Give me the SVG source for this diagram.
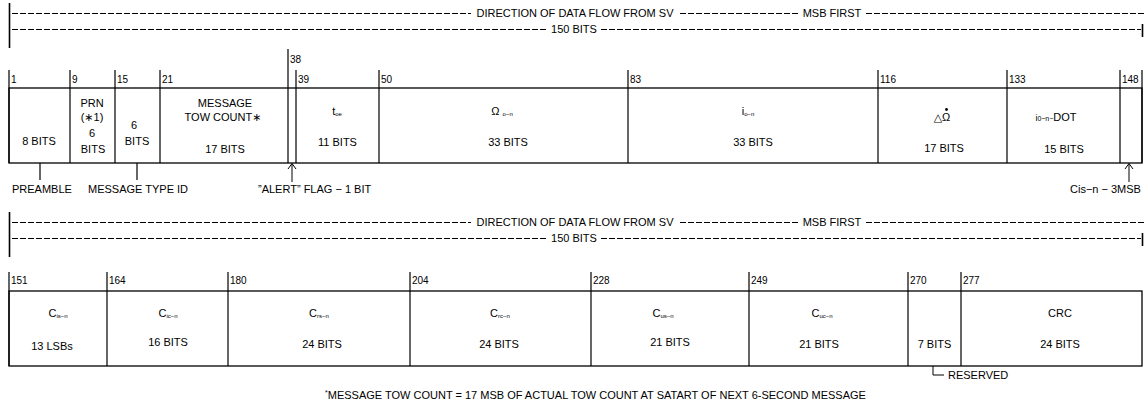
<svg xmlns="http://www.w3.org/2000/svg" width="1146" height="405" viewBox="0 0 1146 405">
<style>
text{font-family:"Liberation Sans",Arial,"DejaVu Sans",sans-serif;font-size:11px;fill:#000}
.m{text-anchor:middle}
.n{font-size:10px}
.s{font-size:6px}
.box{fill:none;stroke:#000;stroke-width:1.3}
.tk{stroke:#000;stroke-width:1.2;fill:none}
.bar{stroke:#000;stroke-width:1.6}
.dash{stroke:#000;stroke-width:1;stroke-dasharray:6 2}
.arr{stroke:#000;stroke-width:1;fill:none}
</style>
<defs>
<g id="hdr">
<line class="bar" x1="9.5" y1="3" x2="9.5" y2="48"/>
<line class="dash" x1="12" y1="13.5" x2="471" y2="13.5"/>
<line class="dash" x1="680" y1="13.5" x2="799" y2="13.5"/>
<line class="dash" x1="866" y1="13.5" x2="1145" y2="13.5"/>
<line class="dash" x1="12" y1="29.5" x2="547" y2="29.5"/>
<line class="dash" x1="601" y1="29.5" x2="1141" y2="29.5"/>
<line class="bar" x1="1142.5" y1="24" x2="1142.5" y2="37"/>
<text class="m" x="575" y="17">DIRECTION OF DATA FLOW FROM SV</text>
<text class="m" x="832" y="17">MSB FIRST</text>
<text class="m" x="574" y="33">150 BITS</text>
</g>
</defs>

<g id="header-top"><use href="#hdr"/></g>
<g id="header-bottom"><use href="#hdr" transform="translate(0,209)"/></g>

<g id="connectors">
<line class="tk" x1="40" y1="163" x2="40" y2="180"/>
<line class="tk" x1="137" y1="163" x2="137" y2="180"/>
<path class="arr" d="M292,182 V164 M288,169 L292,163.5 L296,169"/>
<path class="arr" d="M1129,182 V164 M1125,169 L1129,163.5 L1133,169"/>
<path class="arr" d="M933,366 V375 H944"/>
</g>

<g id="row1">
<rect class="box" x="9" y="88" width="1133" height="75"/>
<path class="tk" d="M9,70V163 M70,70V163 M115,70V163 M160,70V163 M288,49V163 M296,70V163 M379,70V163 M628,70V163 M878,70V163 M1007,70V163 M1120,70V163 M1142,70V163"/>
<text class="n" x="11" y="83">1</text>
<text class="n" x="72" y="83">9</text>
<text class="n" x="117" y="83">15</text>
<text class="n" x="162" y="83">21</text>
<text class="n" x="290" y="63">38</text>
<text class="n" x="298" y="83">39</text>
<text class="n" x="381" y="83">50</text>
<text class="n" x="630" y="83">83</text>
<text class="n" x="880" y="83">116</text>
<text class="n" x="1009" y="83">133</text>
<text class="n" x="1122" y="83">148</text>
</g>

<g id="preamble"><text class="m" x="39" y="145">8 BITS</text></g>
<g id="prn">
<text class="m" x="92" y="107">PRN</text>
<text class="m" x="92" y="121">(∗1)</text>
<text class="m" x="92" y="137">6</text>
<text class="m" x="93" y="153">BITS</text>
</g>
<g id="msgtype">
<text class="m" x="134" y="129">6</text>
<text class="m" x="137" y="145">BITS</text>
</g>
<g id="tow">
<text class="m" x="225" y="107">MESSAGE</text>
<text class="m" x="223" y="121">TOW COUNT∗</text>
<text class="m" x="225" y="153">17 BITS</text>
</g>
<g id="toe">
<text class="m" x="337" y="115">t<tspan class="s" dy="1">oe</tspan></text>
<text class="m" x="337.5" y="146">11 BITS</text>
</g>
<g id="omega">
<text class="m" x="502" y="115">Ω <tspan class="s" dy="1">o−n</tspan></text>
<text class="m" x="508" y="146">33 BITS</text>
</g>
<g id="incl">
<text class="m" x="748" y="115">i<tspan class="s" dy="1">o−n</tspan></text>
<text class="m" x="753" y="146">33 BITS</text>
</g>
<g id="domega">
<text class="m" x="942" y="121">△Ω</text>
<circle cx="946.5" cy="109.5" r="1.4" fill="#000"/>
<text class="m" x="944" y="152">17 BITS</text>
</g>
<g id="idot">
<text class="m" x="1056" y="121"><tspan font-size="9">i</tspan><tspan font-size="7">0−n−</tspan>DOT</text>
<text class="m" x="1064" y="153">15 BITS</text>
</g>

<g id="labels1">
<text x="12" y="193">PREAMBLE</text>
<text x="88" y="193">MESSAGE TYPE ID</text>
<text x="258" y="193">”ALERT” FLAG − 1 BIT</text>
<text x="1070" y="193">Cis−n − 3MSB</text>
</g>

<g id="row2">
<rect class="box" x="9" y="291" width="1133" height="75"/>
<path class="tk" d="M9,272V366 M107,272V366 M228,272V366 M410,272V366 M591,272V366 M749,272V366 M908,272V366 M961,272V366"/>
<text class="n" x="11" y="284">151</text>
<text class="n" x="109" y="284">164</text>
<text class="n" x="230" y="284">180</text>
<text class="n" x="412" y="284">204</text>
<text class="n" x="593" y="284">228</text>
<text class="n" x="751" y="284">249</text>
<text class="n" x="910" y="284">270</text>
<text class="n" x="963" y="284">277</text>
</g>

<g id="cis">
<text class="m" x="58" y="317">C<tspan class="s" dy="1">is−n</tspan></text>
<text class="m" x="52" y="350">13 LSBs</text>
</g>
<g id="cic">
<text class="m" x="168" y="317">C<tspan class="s" dy="1">ic−n</tspan></text>
<text class="m" x="168" y="346">16 BITS</text>
</g>
<g id="crs">
<text class="m" x="319" y="317">C<tspan class="s" dy="1">rs−n</tspan></text>
<text class="m" x="322" y="348">24 BITS</text>
</g>
<g id="crc">
<text class="m" x="500" y="317">C<tspan class="s" dy="1">rc−n</tspan></text>
<text class="m" x="499" y="348">24 BITS</text>
</g>
<g id="cus">
<text class="m" x="663" y="317">C<tspan class="s" dy="1">us−n</tspan></text>
<text class="m" x="670" y="346">21 BITS</text>
</g>
<g id="cuc">
<text class="m" x="822" y="317">C<tspan class="s" dy="1">uc−n</tspan></text>
<text class="m" x="819" y="348">21 BITS</text>
</g>
<g id="reserved">
<text class="m" x="934.5" y="348">7 BITS</text>
<text x="948" y="379">RESERVED</text>
</g>
<g id="crc24">
<text class="m" x="1060" y="317">CRC</text>
<text class="m" x="1060" y="348">24 BITS</text>
</g>

<g id="footnote">
<text x="325" y="399"><tspan font-size="7" dy="-4">*</tspan><tspan dy="4">MESSAGE TOW COUNT = 17 MSB OF ACTUAL TOW COUNT AT SATART OF NEXT 6-SECOND MESSAGE</tspan></text>
</g>
</svg>
